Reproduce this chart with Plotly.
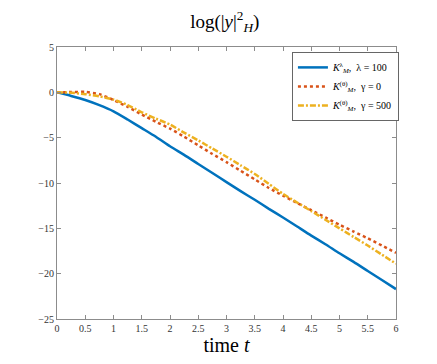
import plotly.graph_objects as go

t = [0, 0.25, 0.5, 0.75, 1, 1.25, 1.5, 1.75, 2, 2.25, 2.5, 2.75, 3, 3.25, 3.5, 3.75, 4, 4.25, 4.5, 4.75, 5, 5.25, 5.5, 5.75, 6]
blue = [0, -0.4, -0.85, -1.42, -2.1, -3.0, -3.95, -4.9, -5.95, -6.9, -7.9, -8.9, -9.9, -10.9, -11.85, -12.85, -13.8, -14.8, -15.8, -16.75, -17.75, -18.7, -19.7, -20.7, -21.7]
red = [0, 0.03, 0.05, -0.2, -0.85, -1.6, -2.45, -3.25, -4.0, -4.9, -5.85, -6.8, -7.7, -8.65, -9.6, -10.55, -11.4, -12.2, -13.0, -13.8, -14.6, -15.35, -16.1, -16.9, -17.7]
yellow = [0, -0.05, -0.2, -0.45, -0.8, -1.4, -2.2, -2.9, -3.55, -4.45, -5.3, -6.2, -7.1, -8.05, -9.0, -10.1, -11.2, -12.15, -13.1, -14.05, -15.0, -15.95, -16.9, -17.9, -18.9]

names = ["<i>K</i><sup>λ</sup><sub><i>M</i></sub>,  λ = 100",
         "<i>K</i><sup>(θ)</sup><sub><i>M</i></sub>,  γ = 0",
         "<i>K</i><sup>(θ)</sup><sub><i>M</i></sub>,  γ = 500"]

fig = go.Figure()
fig.add_trace(go.Scatter(x=t, y=blue, mode="lines", name=names[0],
                         line=dict(color="#0072BD", width=2.5, shape="spline", smoothing=0.6)))
fig.add_trace(go.Scatter(x=t, y=red, mode="lines", name=names[1],
                         line=dict(color="#D95319", width=2.5, dash="3px,3px", shape="spline", smoothing=0.6)))
fig.add_trace(go.Scatter(x=t, y=yellow, mode="lines", name=names[2],
                         line=dict(color="#EDB120", width=2.5, dash="6px,2px,2px,2px", shape="spline", smoothing=0.6)))

axis_common = dict(showline=True, linecolor="#8c8c8c", linewidth=1, mirror="ticks",
                   ticks="inside", ticklen=4, tickcolor="#8c8c8c", showgrid=False,
                   zeroline=False, automargin=False,
                   tickfont=dict(family="Liberation Serif", size=10, color="#333"))

fig.update_layout(
    width=421, height=348,
    margin=dict(l=49, r=33, t=39, b=37),
    paper_bgcolor="white", plot_bgcolor="white",
    title=dict(text="log(|<i>y</i>|<sup>2</sup><sub><i>H</i></sub>)", x=0.515, xanchor="center",
               y=0.962, yanchor="middle",
               font=dict(family="Liberation Serif", size=19, color="black")),
    xaxis=dict(range=[0, 6], tickvals=[0, 0.5, 1, 1.5, 2, 2.5, 3, 3.5, 4, 4.5, 5, 5.5, 6],
               ticktext=["0", "0.5", "1", "1.5", "2", "2.5", "3", "3.5", "4", "4.5", "5", "5.5", "6"],
               title=dict(text="time <i>t</i>", font=dict(family="Liberation Serif", size=20, color="black"),
                          standoff=10),
               **axis_common),
    yaxis=dict(range=[-25, 5], tickvals=[-25, -20, -15, -10, -5, 0, 5], **axis_common),
    legend=dict(x=0.693, y=0.982, xanchor="left", yanchor="top",
                bgcolor="white", bordercolor="#666", borderwidth=1,
                font=dict(family="Liberation Serif", size=10, color="black"),
                tracegroupgap=0, itemwidth=30),
    showlegend=True,
)

fig.write_html("out.html")
